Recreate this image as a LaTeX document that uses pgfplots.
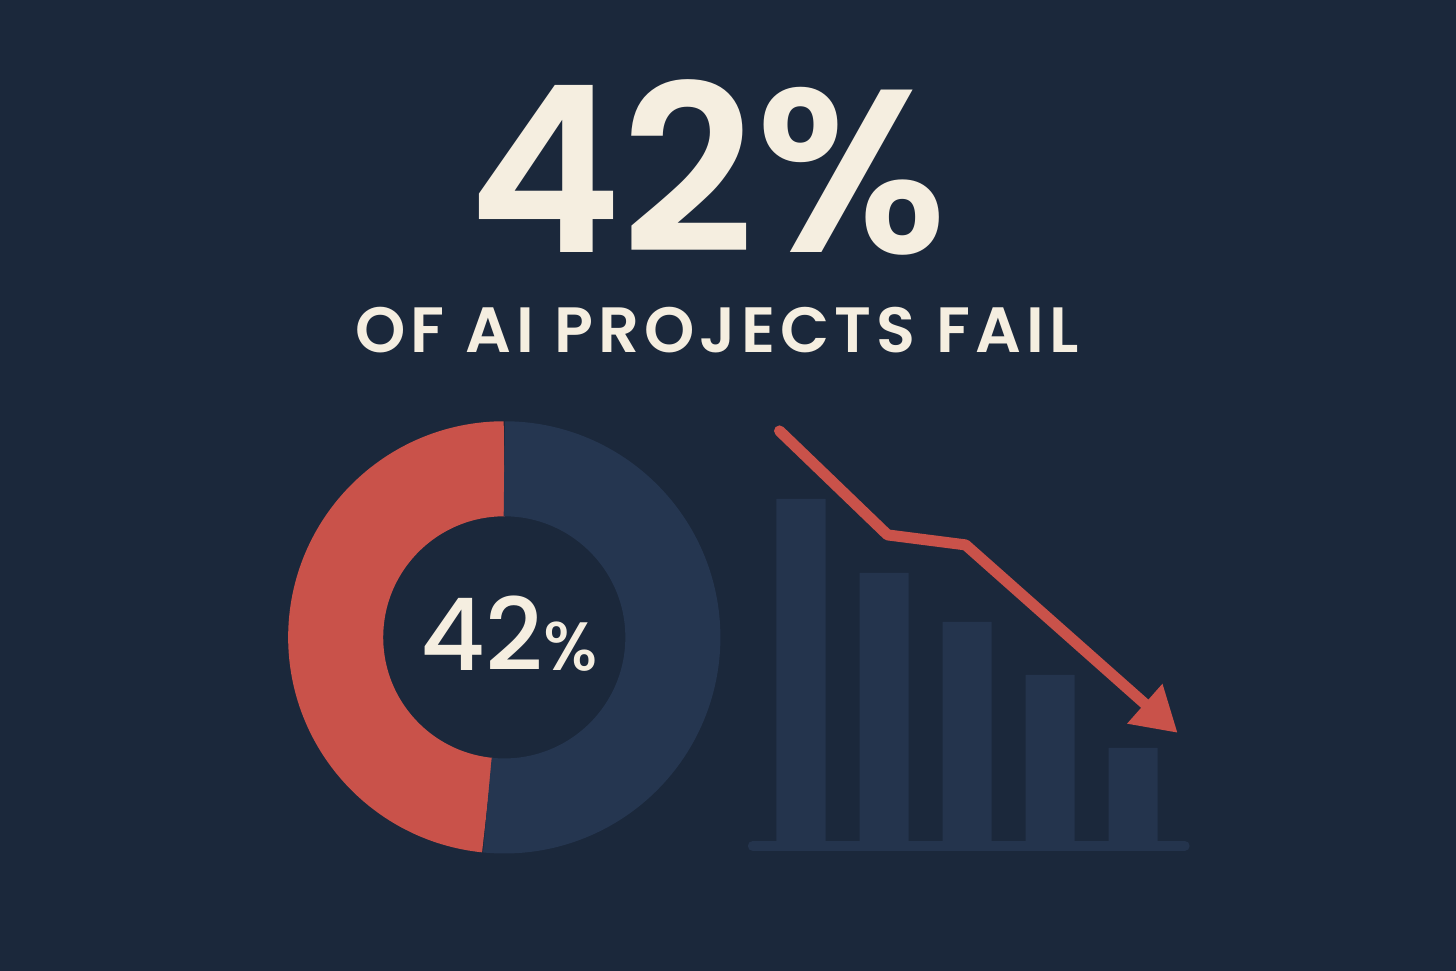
\documentclass[border=0pt]{standalone}
\usepackage{fontspec}
\setmainfont{Poppins}
\newfontfamily\popsemi{Poppins}[UprightFont={* SemiBold}]
\newfontfamily\popwide{Poppins}[UprightFont={* SemiBold}, LetterSpace=8]
\newfontfamily\popmed{Poppins}[UprightFont={* Medium}]
\usepackage{pgfplots}
\pgfplotsset{compat=1.18}
\usetikzlibrary{arrows.meta}

\definecolor{bg}{HTML}{1B283B}
\definecolor{ring}{HTML}{253650}
\definecolor{barcol}{HTML}{24344D}
\definecolor{failred}{HTML}{C9524A}
\definecolor{cream}{HTML}{F5EEE0}

% share of the ring drawn in red / blue
\def\failshare{48.4}
\def\okshare{51.6}

\begin{document}
\begin{tikzpicture}[x=0.01cm, y=0.01cm]
  \fill[bg] (0,0) rectangle (1456,971);

  % headline
  \node[anchor=base, text=cream, inner sep=0pt, text depth=0pt]
    at (708,718) {\fontsize{66}{66}\selectfont\popsemi 42\%};
  \node[anchor=base, text=cream, inner sep=0pt, text depth=0pt]
    at (717,618) {\fontsize{18.2}{18}\selectfont\popwide OF AI PROJECTS FAIL};

  % donut
  \begin{axis}[
      at={(5.04cm,3.335cm)}, anchor=center,
      scale only axis, x=0.01cm, y=0.01cm,
      xmin=-216, xmax=216, ymin=-216, ymax=216,
      hide axis, clip=false,
    ]
    \draw[failred, line width=0.95cm]
      (axis cs:0,168.5) arc[start angle=90, delta angle=3.6*\failshare, radius=1.685cm];
    \draw[ring, line width=0.95cm]
      (axis cs:0,168.5) arc[start angle=90, delta angle=-3.6*\okshare, radius=1.685cm];
  \end{axis}
  \node[anchor=base, text=cream, inner sep=0pt, text depth=0pt] at (509,300)
    {\popmed\fontsize{28.5}{30}\selectfont 42\fontsize{19.5}{20}\selectfont\%};

  % declining bars with arrow
  \begin{axis}[
      at={(7.47cm,1.25cm)}, anchor=south west,
      scale only axis, x=0.83cm, y=0.01cm,
      xmin=0.355, xmax=5.68, ymin=-5, ymax=420,
      hide axis, clip=false,
    ]
    \draw[barcol, line width=0.1cm, line cap=round]
      (axis cs:0.42,-5) -- (axis cs:5.62,-5);
    \addplot[ybar, bar width=0.49cm, fill=barcol, draw=none]
      coordinates {(1,342) (2,268) (3,219) (4,166) (5,93)};
    \addplot[failred, line width=0.11cm, line cap=round, line join=round,
      -{Triangle[length=0.44cm, width=0.5cm]}]
      coordinates {(0.741,410) (2.042,306) (2.982,296) (5.536,108)};
  \end{axis}
\end{tikzpicture}
\end{document}
